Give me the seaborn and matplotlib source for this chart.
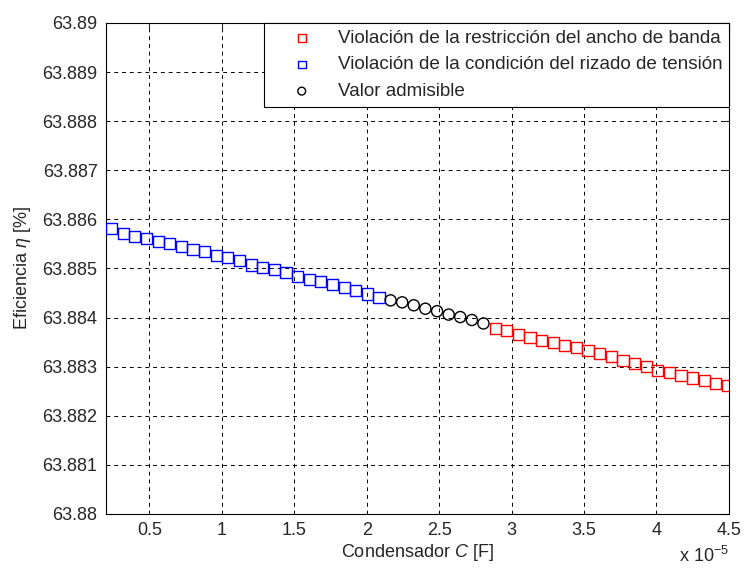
import numpy as np
import pandas as pd
import matplotlib
matplotlib.use("Agg")
import matplotlib.pyplot as plt
import seaborn as sns

# condensador C (en unidades de 1e-5 F) y eficiencia [%]
c_rizado = [0.240, 0.320, 0.400, 0.481, 0.561, 0.641, 0.721, 0.801, 0.882, 0.962,
            1.042, 1.122, 1.202, 1.283, 1.363, 1.443, 1.523, 1.603, 1.684, 1.764,
            1.844, 1.924, 2.004, 2.085]
ef_rizado = [63.88582, 63.88572, 63.88565, 63.88561, 63.88555, 63.88551, 63.88544,
             63.88539, 63.88534, 63.88527, 63.88522, 63.88517, 63.88507, 63.88502,
             63.88498, 63.88491, 63.88484, 63.88478, 63.88473, 63.88468, 63.88461,
             63.88456, 63.88448, 63.88440]

c_admisible = [2.165, 2.245, 2.325, 2.405, 2.486, 2.566, 2.646, 2.726, 2.806]
ef_admisible = [63.88435, 63.88431, 63.88425, 63.88418, 63.88413, 63.88406,
                63.88401, 63.88395, 63.88388]

c_banda = [2.887, 2.967, 3.047, 3.127, 3.207, 3.288, 3.368, 3.448, 3.528, 3.608,
           3.689, 3.769, 3.849, 3.929, 4.009, 4.090, 4.170, 4.250, 4.330, 4.410,
           4.491]
ef_banda = [63.88377, 63.88373, 63.88365, 63.88360, 63.88354, 63.88350, 63.88344,
            63.88339, 63.88333, 63.88327, 63.88320, 63.88312, 63.88307, 63.88300,
            63.88293, 63.88288, 63.88282, 63.88277, 63.88272, 63.88266, 63.88261]

labels = ["Violación de la restricción del ancho de banda",
          "Violación de la condición del rizado de tensión",
          "Valor admisible"]

x_ticks = [0.5, 1, 1.5, 2, 2.5, 3, 3.5, 4, 4.5]
x_ticklabels = ["0.5", "1", "1.5", "2", "2.5", "3", "3.5", "4", "4.5"]
y_ticks = [63.88, 63.881, 63.882, 63.883, 63.884, 63.885, 63.886, 63.887, 63.888, 63.889, 63.89]
y_ticklabels = ["63.88", "63.881", "63.882", "63.883", "63.884", "63.885",
                "63.886", "63.887", "63.888", "63.889", "63.89"]

sns.set_style("white")
plt.rcParams['font.family'] = ['Liberation Sans', 'DejaVu Sans']
plt.rcParams['mathtext.fontset'] = 'custom'
plt.rcParams['mathtext.rm'] = 'Liberation Sans'
plt.rcParams['mathtext.it'] = 'Liberation Sans:italic'
fs = 13

fig = plt.figure(figsize=(7.46, 5.73), dpi=100)
ax = fig.add_axes([0.142, 0.103, 0.835, 0.857])

ms = 8.0
sns.scatterplot(x=c_banda, y=ef_banda, marker='s', s=ms**2, facecolor='none',
                edgecolor='red', linewidth=1.0, ax=ax, label=labels[0], zorder=3)
sns.scatterplot(x=c_rizado, y=ef_rizado, marker='s', s=ms**2, facecolor='none',
                edgecolor='blue', linewidth=1.0, ax=ax, label=labels[1], zorder=3)
sns.scatterplot(x=c_admisible, y=ef_admisible, marker='o', s=ms**2, facecolor='none',
                edgecolor='black', linewidth=1.0, ax=ax, label=labels[2], zorder=3)

ax.set_xlim(0.2, 4.5)
ax.set_ylim(63.88, 63.89)
ax.set_xticks(x_ticks)
ax.set_xticklabels(x_ticklabels)
ax.set_yticks(y_ticks)
ax.set_yticklabels(y_ticklabels)
ax.tick_params(direction='in', length=5, top=True, right=True, labelsize=fs, pad=6)

ax.grid(True, color='black', linestyle=(0, (4, 4)), linewidth=0.7)
ax.set_axisbelow(True)
for sp in ax.spines.values():
    sp.set_color('black')
    sp.set_linewidth(0.8)

ax.set_xlabel("Condensador $C$ [F]", fontsize=fs, labelpad=2)
ax.set_ylabel(r"Eficiencia $\eta$ [%]", fontsize=fs, labelpad=7)
fig.text(0.977, 0.012, r"x 10$^{-5}$", ha='right', va='bottom', fontsize=fs)

leg = ax.legend(loc='upper right', borderaxespad=0, fancybox=False, framealpha=1,
                edgecolor='black', fontsize=13.6, markerscale=0.7,
                handlelength=3.3, handletextpad=0.25, labelspacing=0.5,
                borderpad=0.35)
leg.get_frame().set_linewidth(0.8)

fig.savefig("out.png", dpi=100)
